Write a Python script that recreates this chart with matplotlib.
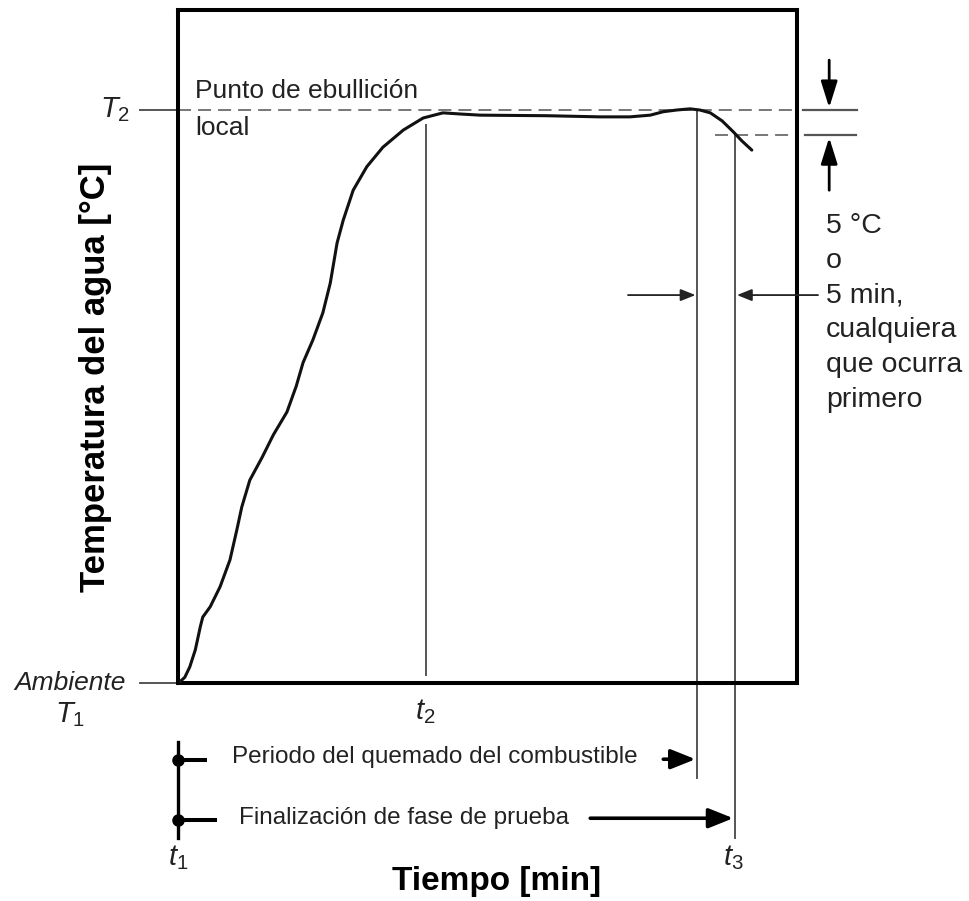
import matplotlib
matplotlib.use('Agg')
import matplotlib.pyplot as plt
import numpy as np

plt.rcParams['font.family'] = ['Liberation Sans', 'DejaVu Sans']
plt.rcParams['mathtext.fontset'] = 'custom'
plt.rcParams['mathtext.rm'] = 'Liberation Sans'
plt.rcParams['mathtext.it'] = 'Liberation Sans:italic'

# water temperature curve (time in arbitrary min, temperature as % of T1 -> T2)
time = [0.3, 1.1, 1.9, 2.8, 3.6, 4.0, 5.2, 6.8, 8.4, 9.5, 10.3, 11.6, 13.6,
        15.4, 17.6, 19.1, 20.2, 21.8, 23.4, 24.6, 25.7, 26.7, 28.3, 30.5,
        33.1, 36.4, 39.6, 42.8, 45.6, 48.8, 59.6, 68.2, 73.0, 76.3, 78.4,
        80.6, 82.7, 84.3, 86.0, 87.9, 89.7, 91.1, 92.7]
temp = [0.2, 1.0, 2.8, 5.8, 9.8, 11.5, 13.3, 16.8, 21.5, 26.7, 30.7, 35.4,
        39.4, 43.3, 47.3, 51.8, 55.9, 59.9, 64.6, 69.8, 76.8, 80.8, 86.0,
        90.1, 93.5, 96.5, 98.6, 99.5, 99.3, 99.1, 99.0, 98.8, 98.8, 99.1,
        99.7, 100.0, 100.2, 100.0, 99.5, 98.1, 96.2, 94.6, 93.0]

t1, t2, t_burn, t3 = 0, 40, 83.8, 90
T1, T2, T_drop = 0, 100, 95.6

ink = '#222222'
grey = '#555555'

fig = plt.figure(figsize=(9.69, 9.01), dpi=100)
ax = fig.add_axes([178/969, 218/901, 619/969, 673/901])
ax.set_xlim(0, 100)
ax.set_ylim(0, 117.45)
ax.set_xticks([])
ax.set_yticks([])
for s in ax.spines.values():
    s.set_linewidth(2.9)
    s.set_color('black')

ax.plot(time, temp, color='#111111', lw=2.2, solid_joinstyle='round',
        solid_capstyle='round', zorder=5)

# boiling point + 5 degree drop reference
ax.plot([0, 100], [T2, T2], color='#777777', lw=1.4, dashes=(6.7, 3.6))
ax.plot([86.8, 100], [T_drop, T_drop], color='#777777', lw=1.4, dashes=(6.7, 3.6))
ax.plot([-6.1, 0], [T2, T2], color=grey, lw=1.4, clip_on=False)
ax.plot([-6.1, 0], [T1, T1], color=grey, lw=1.4, clip_on=False)
ax.plot([101.0, 109.7], [T2, T2], color=grey, lw=1.6, clip_on=False)
ax.plot([101.3, 109.6], [T_drop, T_drop], color=grey, lw=1.6, clip_on=False)

# vertical markers
ax.plot([t2, t2], [1.4, 97.4], color=grey, lw=1.4)
ax.plot([t_burn, t_burn], [T2, -16.6], color=grey, lw=1.4, clip_on=False)
ax.plot([t3, t3], [T_drop, -27.0], color=grey, lw=1.4, clip_on=False)

# right side arrows
head = dict(arrowstyle='-|>,head_length=0.8,head_width=0.25', color='black',
            lw=2.0, shrinkA=0, shrinkB=0, mutation_scale=20)
ax.annotate('', xy=(105.2, 100.4), xytext=(105.2, 108.7), arrowprops=head,
            annotation_clip=False)
ax.annotate('', xy=(105.2, 95.2), xytext=(105.2, 86.0), arrowprops=head,
            annotation_clip=False)
small = dict(arrowstyle='-|>,head_length=0.45,head_width=0.18', color=ink,
             lw=1.3, shrinkA=0, shrinkB=0, mutation_scale=20)
ax.annotate('', xy=(t_burn - 0.2, 67.7), xytext=(72.7, 67.7), arrowprops=small,
            annotation_clip=False)
ax.annotate('', xy=(t3 + 0.3, 67.7), xytext=(103.4, 67.7), arrowprops=small,
            annotation_clip=False)

ax.text(104.7, 64.6, '5 °C\no\n5 min,\ncualquiera\nque ocurra\nprimero',
        fontsize=20.5, color=ink, ha='left', va='center', linespacing=1.44,
        clip_on=False)

# timeline below
ax.plot([t1, t1], [-10.3, -27.0], color='black', lw=2.4, clip_on=False)
ax.plot([t1], [-13.4], 'o', color='black', ms=8, clip_on=False)
ax.plot([t1], [-23.9], 'o', color='black', ms=8, clip_on=False)
ax.plot([t1, 4.4], [-13.4, -13.4], color='black', lw=2.9, clip_on=False)
ax.plot([t1, 6.0], [-23.9, -23.9], color='black', lw=2.9, clip_on=False)
big = dict(arrowstyle='-|>,head_length=0.75,head_width=0.3', color='black',
           lw=2.6, shrinkA=0, shrinkB=0, mutation_scale=20)
ax.annotate('', xy=(t_burn - 0.2, -13.3), xytext=(78.4, -13.3), arrowprops=big,
            annotation_clip=False)
ax.annotate('', xy=(t3 - 0.3, -23.6), xytext=(66.6, -23.6), arrowprops=big,
            annotation_clip=False)
ax.text(41.5, -13.0, 'Periodo del quemado del combustible', fontsize=17.5,
        color=ink, ha='center', va='center', clip_on=False)
ax.text(36.5, -23.6, 'Finalización de fase de prueba', fontsize=17.5,
        color=ink, ha='center', va='center', clip_on=False)

# labels
ax.text(2.75, 103.3, 'Punto de ebullición', fontsize=19, color=ink,
        ha='left', va='center')
ax.text(2.75, 96.8, 'local', fontsize=19, color=ink, ha='left', va='center')
ax.text(-10.2, T2, r'$\mathit{T_2}$', fontsize=21, color=ink,
        ha='center', va='center', clip_on=False)
ax.text(-17.4, T1, 'Ambiente', fontsize=19, style='italic', color=ink,
        ha='center', va='center', clip_on=False)
ax.text(-17.4, -5.6, r'$\mathit{T_1}$', fontsize=21, color=ink,
        ha='center', va='center', clip_on=False)
ax.text(t2, -5.0, r'$\mathit{t_2}$', fontsize=21, color=ink,
        ha='center', va='center', clip_on=False)
ax.text(t1, -30.4, r'$\mathit{t_1}$', fontsize=21, color=ink,
        ha='center', va='center', clip_on=False)
ax.text(t3 - 0.3, -30.4, r'$\mathit{t_3}$', fontsize=21, color=ink,
        ha='center', va='center', clip_on=False)

ax.text(51.4, -34.7, 'Tiempo [min]', fontsize=24, fontweight='bold',
        color='black', ha='center', va='center', clip_on=False)
ax.text(-13.4, 53.4, 'Temperatura del agua [°C]', fontsize=25,
        fontweight='bold', color='black', rotation=90, ha='center',
        va='center', clip_on=False)

fig.savefig('out.png', dpi=100, facecolor='white')
